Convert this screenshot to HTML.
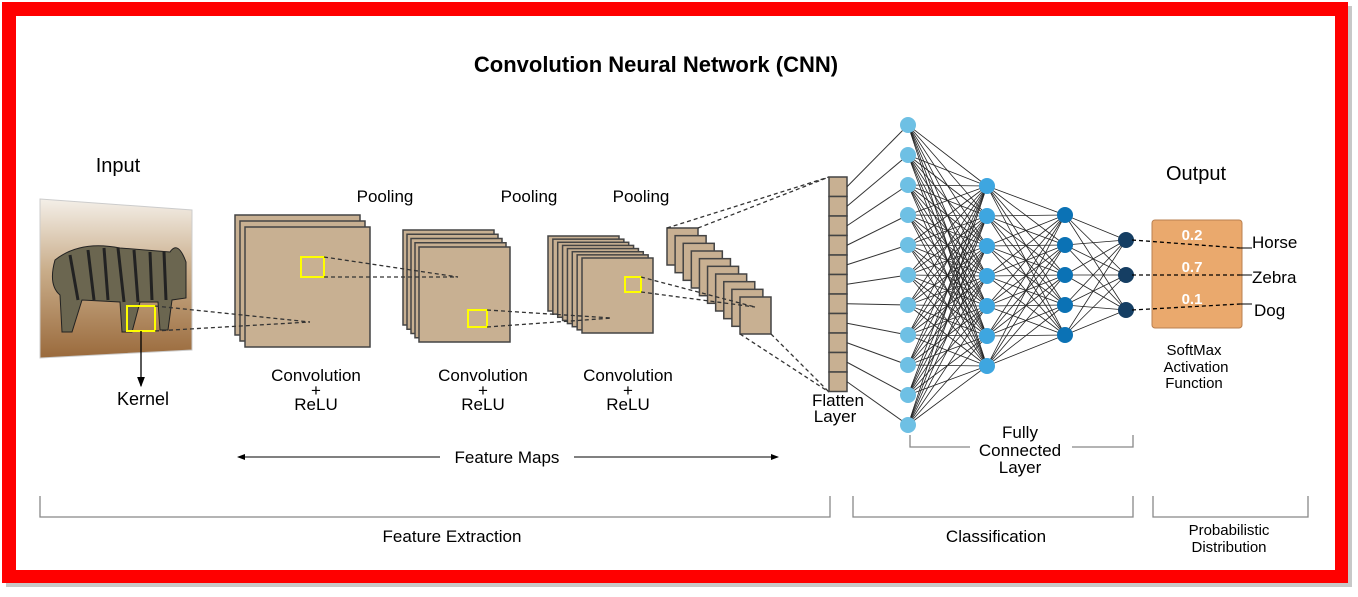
<!DOCTYPE html>
<html><head><meta charset="utf-8"><style>
html,body{margin:0;padding:0;background:#fff;}
svg{display:block;font-family:"Liberation Sans",sans-serif;}
</style></head><body>
<svg id="s" width="1358" height="597" viewBox="0 0 1358 597" xmlns="http://www.w3.org/2000/svg">
<defs>
<linearGradient id="bg" x1="0" y1="0" x2="0" y2="1">
<stop offset="0" stop-color="#f4efe8"/><stop offset="0.45" stop-color="#c9ad8a"/><stop offset="1" stop-color="#9a6a3c"/>
</linearGradient>
<marker id="ar" markerWidth="8" markerHeight="8" refX="7" refY="4" orient="auto"><path d="M0,1 L8,4 L0,7 z" fill="#000"/></marker>
</defs>
<rect x="0" y="0" width="1358" height="597" fill="#fff"/>
<rect x="6" y="6" width="1346" height="581" fill="#c8c8c8"/>
<rect x="2" y="2" width="1346" height="581" fill="#ff0000"/>
<rect x="16" y="16" width="1319" height="554" fill="#fff"/>
<text x="656" y="72" font-size="22" font-weight="bold" text-anchor="middle">Convolution  Neural  Network (CNN)</text>
<text x="118" y="172" font-size="20" text-anchor="middle">Input</text>
<polygon points="40,199 192,210 192,350 40,358" fill="url(#bg)" stroke="#ccc"/>
<g fill="#6b6650" stroke="#222" stroke-width="1">
<path d="M55,260 Q80,240 120,248 L170,252 Q178,240 186,262 L186,298 L172,300 L168,330 L160,330 L158,302 L140,302 L132,332 L122,332 L120,302 L82,300 L72,332 L62,332 L60,295 Q48,285 55,260 z"/>
</g>
<g stroke="#222" stroke-width="3" fill="none">
<path d="M70,255 L78,300 M88,250 L94,300 M104,248 L108,300 M118,248 L124,302 M134,250 L138,302 M150,252 L152,300 M164,252 L166,300"/>
</g>
<rect x="127" y="306" width="28" height="25" fill="none" stroke="#ffff00" stroke-width="2"/>
<line x1="141" y1="331" x2="141" y2="386" stroke="#000" stroke-width="1.3" marker-end="url(#ar)"/>
<text x="143" y="405" font-size="18" text-anchor="middle">Kernel</text>
<g id="stacks"></g>
<g stroke="#333" stroke-width="1.3" stroke-dasharray="4,3" fill="none">
<line x1="155" y1="306" x2="310" y2="322"/><line x1="155" y1="331" x2="310" y2="322"/>
<line x1="324" y1="257" x2="458" y2="277"/><line x1="324" y1="277" x2="458" y2="277"/>
<line x1="487" y1="310" x2="612" y2="318"/><line x1="487" y1="327" x2="612" y2="318"/>
<line x1="641" y1="277" x2="755" y2="307"/><line x1="641" y1="292" x2="755" y2="307"/>
<line x1="667" y1="228" x2="829" y2="177"/><line x1="698" y1="228" x2="829" y2="177"/>
<line x1="740" y1="334" x2="829" y2="392"/><line x1="771" y1="334" x2="829" y2="392"/>
</g>
<g font-size="17" text-anchor="middle">
<text x="385" y="202">Pooling</text><text x="529" y="202">Pooling</text><text x="641" y="202">Pooling</text>
<text x="316" y="381">Convolution</text><text x="316" y="396">+</text><text x="316" y="410">ReLU</text>
<text x="483" y="381">Convolution</text><text x="483" y="396">+</text><text x="483" y="410">ReLU</text>
<text x="628" y="381">Convolution</text><text x="628" y="396">+</text><text x="628" y="410">ReLU</text>
<text x="838" y="406">Flatten</text><text x="835" y="422">Layer</text>
<text x="1020" y="438">Fully</text><text x="1020" y="456">Connected</text><text x="1020" y="473">Layer</text>
<text x="507" y="463">Feature  Maps</text>
<text x="452" y="542">Feature Extraction</text>
<text x="996" y="542">Classification</text>
</g>
<line x1="440" y1="457" x2="238" y2="457" stroke="#000" marker-end="url(#ar)"/>
<line x1="574" y1="457" x2="778" y2="457" stroke="#000" marker-end="url(#ar)"/>
<g stroke="#888" stroke-width="1.3" fill="none">
<polyline points="40,496 40,517 830,517 830,496"/>
<polyline points="853,496 853,517 1133,517 1133,496"/>
<polyline points="1153,496 1153,517 1308,517 1308,496"/>
<polyline points="910,435 910,447 970,447"/><polyline points="1072,447 1133,447 1133,435"/>
</g>
<text x="1229" y="535" font-size="15" text-anchor="middle">Probabilistic</text>
<text x="1229" y="552" font-size="15" text-anchor="middle">Distribution</text>
<g id="net"></g>
<rect x="1152" y="220" width="90" height="108" rx="3" fill="#eaa96d" stroke="#b98050"/>
<g font-size="15" fill="#fff" text-anchor="middle" font-weight="bold">
<text x="1192" y="240">0.2</text><text x="1192" y="272">0.7</text><text x="1192" y="304">0.1</text></g>
<g stroke="#000" stroke-width="1.3" stroke-dasharray="4,3">
<line x1="1132" y1="240" x2="1240" y2="248"/><line x1="1132" y1="275" x2="1240" y2="275"/><line x1="1132" y1="310" x2="1240" y2="304"/></g>
<g stroke="#000" stroke-width="1"><line x1="1240" y1="248" x2="1252" y2="248"/><line x1="1240" y1="275" x2="1252" y2="275"/><line x1="1240" y1="304" x2="1252" y2="304"/></g>
<g font-size="17"><text x="1252" y="248">Horse</text><text x="1252" y="283">Zebra</text><text x="1254" y="316">Dog</text></g>
<text x="1196" y="180" font-size="20" text-anchor="middle">Output</text>
<g font-size="15" text-anchor="middle"><text x="1194" y="355">SoftMax</text><text x="1196" y="372">Activation</text><text x="1194" y="388">Function</text></g>
</svg>
<script>
var NS="http://www.w3.org/2000/svg";
function el(p,t,a){var e=document.createElementNS(NS,t);for(var k in a)e.setAttribute(k,a[k]);p.appendChild(e);return e;}
var st=document.getElementById("stacks");
function stack(n,x0,y0,x1,y1,w,h){for(var i=0;i<n;i++){var f=n==1?1:i/(n-1);var x=x0+(x1-x0)*f,y=y0+(y1-y0)*f;
el(st,"rect",{x:x,y:y,width:w,height:h,fill:"#c8b092",stroke:"#444","stroke-width":1.5});}}
stack(3,235,215,245,227,125,120);
stack(5,403,230,419,247,91,95);
stack(8,548,236,582,258,71,75);
stack(10,667,228,740,297,31,37);
var yb=[[301,257,23,20],[468,310,19,17],[625,277,16,15]];
yb.forEach(function(b){el(st,"rect",{x:b[0],y:b[1],width:b[2],height:b[3],fill:"none",stroke:"#ffff00","stroke-width":2});});
var net=document.getElementById("net");
var fl=[];for(var i=0;i<11;i++){el(net,"rect",{x:829,y:177+i*19.5,width:18,height:19.5,fill:"#c8b092",stroke:"#444","stroke-width":1.5});fl.push(177+i*19.5+9.75);}
var L=[[908,[]],[987,[]],[1065,[]],[1126,[]]];
for(i=0;i<11;i++)L[0][1].push(125+i*30);
for(i=0;i<7;i++)L[1][1].push(186+i*30);
for(i=0;i<5;i++)L[2][1].push(215+i*30);
L[3][1]=[240,275,310];
for(i=0;i<11;i++)el(net,"line",{x1:847,y1:fl[i],x2:908,y2:L[0][1][i],stroke:"#333","stroke-width":1});
for(var l=0;l<3;l++){L[l][1].forEach(function(a){L[l+1][1].forEach(function(b){el(net,"line",{x1:L[l][0],y1:a,x2:L[l+1][0],y2:b,stroke:"#222","stroke-width":0.8});});});}
var cols=["#6ec0e4","#3ea6e0","#0b72b5","#153e63"];
L.forEach(function(c,j){c[1].forEach(function(y){el(net,"circle",{cx:c[0],cy:y,r:8,fill:cols[j]});});});
</script>
</body></html>
